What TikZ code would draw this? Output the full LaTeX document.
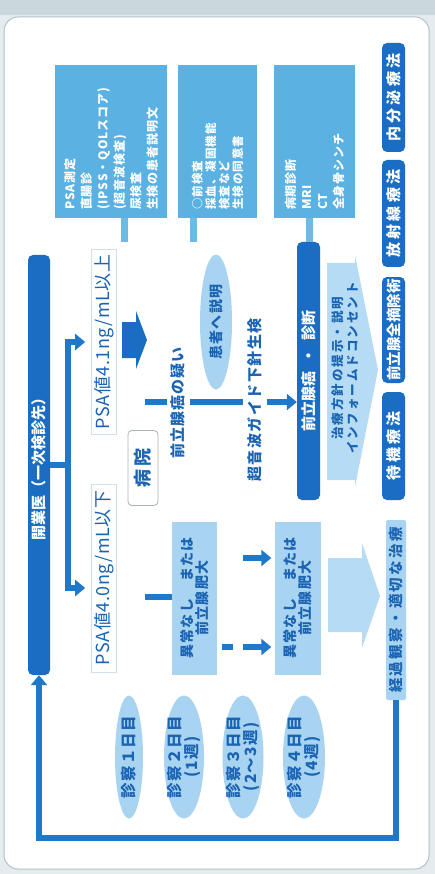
\documentclass[tikz,border=0pt]{standalone}
\usepackage{fontspec}
\setmainfont{Noto Sans CJK JP}
\usetikzlibrary{arrows.meta,shapes.geometric}
\definecolor{dblue}{HTML}{1A6DC2}
\definecolor{lblue}{HTML}{2078CB}
\definecolor{mblue}{HTML}{5BB1E2}
\definecolor{sblue}{HTML}{6DBAE5}
\definecolor{pblue}{HTML}{A9D4F1}
\definecolor{pblue2}{HTML}{B5DCF4}
\definecolor{tdark}{HTML}{1B64B3}
\definecolor{bgc}{HTML}{E4ECF0}
\definecolor{bandc}{HTML}{CAD7DD}
\definecolor{framec}{HTML}{B5C0C7}
\definecolor{faint}{HTML}{CFE0EA}
\definecolor{gborder}{HTML}{A9B3BA}
\newcommand\fsz[3]{\fontsize{#1pt}{#2pt}\selectfont\bfseries\addfontfeatures{LetterSpace=#3}}
\newcommand\fszr[3]{\fontsize{#1pt}{#2pt}\selectfont\addfontfeatures{LetterSpace=#3}}
\tikzset{
  txt/.style={rotate=90, inner sep=0pt, text=tdark},
  darkbar/.style={rotate=90, fill=dblue, rounded corners=5pt, text=white, inner sep=0pt},
  rlab/.style={rotate=90, fill=dblue, rounded corners=5pt, text=white, inner sep=0pt, minimum height=23pt},
  topbox/.style={rotate=90, fill=mblue, text=white, align=left, inner sep=0pt},
  pbox/.style={rotate=90, fill=pblue, text=tdark, align=center, inner sep=0pt},
  ell/.style={ellipse, rotate=90, fill=pblue, inner sep=0pt},
  conn/.style={draw=lblue, line width=5.5pt},
  stub/.style={draw=sblue, line width=7pt},
  arr/.style={-{Triangle[length=10pt,width=16pt]}},
}
\begin{document}
\begin{tikzpicture}[x=1pt,y=-1pt]
\useasboundingbox (0,0) rectangle (435,874);
% background and frame
\fill[bgc] (0,0) rectangle (435,874);
\fill[bandc] (0,0) rectangle (435,15);
\draw[framec, line width=1pt, fill=white, rounded corners=14pt] (4,17) rectangle (429,869);

% top row bar
\node[darkbar, minimum width=420pt, minimum height=22pt, font=\fsz{15}{18}{0}] (kaigyo) at (39,465) {開業医（一次検診先）};

% PSA branches
\node[txt, draw=faint, line width=0.7pt, minimum width=185pt, minimum height=25pt, font=\fszr{18}{20}{3}] (psa41) at (104,342) {PSA値4.1ng/mL以上};
\node[txt, draw=faint, line width=0.7pt, minimum width=188pt, minimum height=25pt, font=\fszr{18}{20}{3}] (psa40) at (104,578) {PSA値4.0ng/mL以下};
\coordinate (jn) at (68,465);
\coordinate (a40) at (0,588);
\draw[conn] (kaigyo.south) -- (jn);
\draw[conn,arr,shorten >=6pt] (jn) |- (psa41.north);
\draw[conn,arr,shorten >=6pt] (jn) |- (psa40.north |- a40);

% hospital label and block arrow
\node[txt, draw=gborder, fill=white, rounded corners=4pt, line width=0.8pt, minimum width=75pt, minimum height=30pt, font=\fsz{18}{20}{12}] (byoin) at (143,468) {病院};
\fill[dblue] (122,322) -- (136,322) -- (136,311) -- (147,340) -- (136,369) -- (136,358) -- (122,358) -- cycle;

% explanation ellipse
\node[ell, minimum width=135pt, minimum height=32pt] (kanja) at (216,322) {};
\node[txt, font=\fsz{14}{16}{8}] (kanjat) at (kanja) {患者へ説明};

% diagnosis bar
\node[darkbar, minimum width=258pt, minimum height=23pt, font=\fsz{15}{18}{0}] (shindan) at (308.5,371) {前立腺癌\hspace{8pt}・\hspace{8pt}診断};

% flow line to diagnosis
\coordinate (f0) at (145,402);
\draw[conn,arr] (f0) -- (shindan.north |- f0);
\node[txt, fill=white, minimum height=23pt, font=\fsz{15}{17}{7}] (utagai) at (178,403) {前立腺癌の疑い};
\node[txt, fill=white, minimum height=24pt, font=\fsz{15}{17}{10}] (seiken) at (255,400) {超音波ガイド下針生検};

% top boxes
\node[topbox, minimum width=153pt, minimum height=112pt, text width=137pt, font=\fsz{12}{16.5}{8}] (boxA) at (111,141.5) {PSA測定\\直腸診\\(IPSS・QOLスコア)\\(超音波検査)\\尿検査\\生検の患者説明文};
\node[topbox, minimum width=153pt, minimum height=79pt, text width=137pt, font=\fsz{11.5}{13.5}{9}] (boxB) at (217.5,141.5) {○前検査\\採血、凝固機能\\検査など\\生検の同意書};
\node[topbox, minimum width=153pt, minimum height=81pt, text width=137pt, font=\fsz{12}{16}{7}] (boxC) at (314.5,141.5) {病期診断\\MRI\\CT\\全身骨シンチ};
\coordinate (sA) at (124,242);
\coordinate (sB) at (193,242);
\coordinate (sC) at (309,0);
\draw[stub] (boxA.west -| sA) -- (sA);
\draw[stub] (boxB.west -| sB) -- (sB);
\draw[stub] (boxC.west -| sC) -- (shindan.east -| sC);

% big light arrows
\fill[pblue2] (327,263) -- (355,263) -- (355,255) -- (378,370) -- (355,487) -- (355,480) -- (327,480) -- cycle;
\node[txt, align=center, font=\fsz{12.5}{15}{16}] (ic) at (345,368) {治療方針の提示・説明\\インフォームドコンセント};
\fill[pblue2] (328,558) -- (362,558) -- (362,543) -- (380,596) -- (362,648) -- (362,632) -- (328,632) -- cycle;

% treatment labels
\node[rlab, minimum width=109pt, font=\fsz{15}{17}{22}] (naibunpi) at (393.5,97.5) {内分泌療法};
\node[rlab, minimum width=107pt, font=\fsz{15}{17}{22}] (hoshasen) at (393.5,213.5) {放射線療法};
\node[rlab, minimum width=106pt, font=\fsz{14.5}{17}{0}] (zentekki) at (393.5,330) {前立腺全摘除術};
\node[rlab, minimum width=108pt, font=\fsz{15}{17}{22}] (taiki) at (393.5,446) {待機療法};
\node[txt, fill=pblue, rounded corners=2pt, minimum width=180pt, minimum height=20pt, font=\fsz{14.5}{17}{16}] (keika) at (396,610) {経過観察・適切な治療};

% lower branch boxes
\node[pbox, minimum width=153pt, minimum height=45pt, font=\fsz{14}{15}{10}] (boxD) at (194.5,598) {異常なし　または\\前立腺肥大};
\node[pbox, minimum width=153pt, minimum height=46pt, font=\fsz{14}{15}{10}] (boxE) at (297.5,598) {異常なし　または\\前立腺肥大};
\coordinate (d0) at (145,597);
\coordinate (r1) at (243,558);
\coordinate (r2) at (0,647);
\draw[conn] (d0) -- (boxD.north |- d0);
\draw[conn,arr,shorten >=3pt] (r1) -- (boxE.north |- r1);
\draw[conn,arr,shorten <=5pt,shorten >=3pt,dash pattern=on 11pt off 10pt on 300pt] (boxD.south |- r2) -- (boxE.north |- r2);

% visit ellipses
\node[ell, minimum width=123pt, minimum height=28pt] (d1) at (129,757) {};
\node[ell, minimum width=123pt, minimum height=40pt] (d2) at (184,757) {};
\node[ell, minimum width=123pt, minimum height=41pt] (d3) at (243,757) {};
\node[ell, minimum width=123pt, minimum height=42pt] (d4) at (304,757) {};
\node[txt, align=center, font=\fsz{15.5}{17}{8}] (d1t) at (d1) {診察１日目};
\node[txt, align=center, font=\fsz{15.5}{17}{8}] (d2t) at (d2) {診察２日目\\(1週)};
\node[txt, align=center, font=\fsz{15.5}{17}{8}] (d3t) at (d3) {診察３日目\\(2～3週)};
\node[txt, align=center, font=\fsz{15.5}{17}{8}] (d4t) at (d4) {診察４日目\\(4週)};

% feedback loop
\coordinate (fb) at (397,838);
\draw[conn,arr] (keika.west) -- (keika.west |- fb) -| (kaigyo.west);
\end{tikzpicture}
\end{document}
